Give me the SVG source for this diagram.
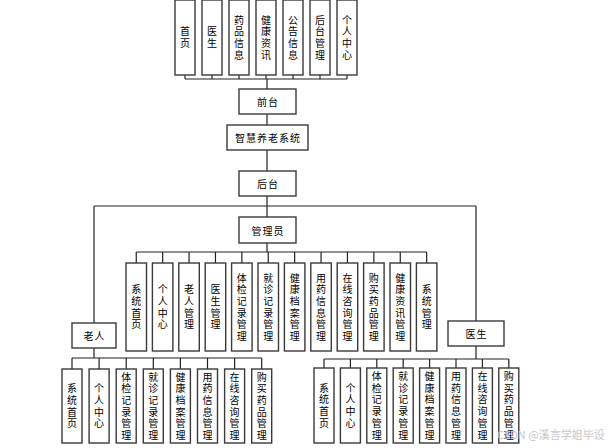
<svg xmlns="http://www.w3.org/2000/svg" width="616" height="448" viewBox="0 0 616 448">
<style>
.b{fill:#fff;stroke:#3a3a3a;stroke-width:1.4}
.c{fill:none;stroke:#222;stroke-width:1.2}
.t{font-family:"Noto Sans CJK SC","Liberation Sans",sans-serif;font-size:10px;fill:#000;text-anchor:middle;dominant-baseline:central}
.v{font-family:"Noto Sans CJK SC","Liberation Sans",sans-serif;font-size:10px;fill:#000;text-anchor:middle;writing-mode:vertical-rl;text-orientation:upright;letter-spacing:1.7px}
.h{letter-spacing:1px}
.w{font-family:"Noto Sans CJK SC","Liberation Sans",sans-serif;font-size:11px;fill:#c8c8c8}
</style>
<rect width="616" height="448" fill="#fff"/>
<g id="connectors">
<path class="c" d="M185 75V79M212 75V79M239 75V79M266 75V79M293 75V79M320 75V79M347 75V79M185 79H347M267 79V89"/>
<path class="c" d="M267 114V125M267 150V171M267 196V217M94 206H476M94 206V323M476 206V321"/>
<path class="c" d="M267 243V252M136.25 252H426.65M136.25 252V263M162.65 252V263M189.05 252V263M215.45 252V263M241.85 252V263M268.25 252V263M294.65 252V263M321.05 252V263M347.45 252V263M373.85 252V263M400.25 252V263M426.65 252V263"/>
<path class="c" d="M94 348V358M72 358H261.7M72 358V369M99.1 358V369M126.2 358V369M153.3 358V369M180.4 358V369M207.5 358V369M234.6 358V369M261.7 358V369"/>
<path class="c" d="M476 346V359M324 359H508.8M324 359V368M350.4 359V368M376.8 359V368M403.2 359V368M429.6 359V368M456 359V368M482.4 359V368M508.8 359V368"/>
</g>
<g id="top-shouye"><rect class="b" x="175" y="0" width="20" height="75"/><text class="v" x="185" y="38.35">首页</text></g>
<g id="top-yisheng"><rect class="b" x="202" y="0" width="20" height="75"/><text class="v" x="212" y="38.35">医生</text></g>
<g id="top-yaopin"><rect class="b" x="229" y="0" width="20" height="75"/><text class="v" x="239" y="38.35">药品信息</text></g>
<g id="top-jiankang"><rect class="b" x="256" y="0" width="20" height="75"/><text class="v" x="266" y="38.35">健康资讯</text></g>
<g id="top-gonggao"><rect class="b" x="283" y="0" width="20" height="75"/><text class="v" x="293" y="38.35">公告信息</text></g>
<g id="top-houtai"><rect class="b" x="310" y="0" width="20" height="75"/><text class="v" x="320" y="38.35">后台管理</text></g>
<g id="top-geren"><rect class="b" x="337" y="0" width="20" height="75"/><text class="v" x="347" y="38.35">个人中心</text></g>
<g id="qiantai"><rect class="b" x="239" y="89" width="57" height="25"/><text class="t h" x="268" y="101.5">前台</text></g>
<g id="system"><rect class="b" x="227" y="125" width="81" height="25"/><text class="t h" x="268" y="137.5">智慧养老系统</text></g>
<g id="houtai"><rect class="b" x="239" y="171" width="57" height="25"/><text class="t h" x="268" y="183.5">后台</text></g>
<g id="admin"><rect class="b" x="239" y="217" width="57" height="26"/><text class="t h" x="268" y="230">管理员</text></g>
<g id="a1"><rect class="b" x="126" y="263" width="20.5" height="88"/><text class="v" x="136.25" y="307.85">系统首页</text></g>
<g id="a2"><rect class="b" x="152.4" y="263" width="20.5" height="88"/><text class="v" x="162.65" y="307.85">个人中心</text></g>
<g id="a3"><rect class="b" x="178.8" y="263" width="20.5" height="88"/><text class="v" x="189.05" y="307.85">老人管理</text></g>
<g id="a4"><rect class="b" x="205.2" y="263" width="20.5" height="88"/><text class="v" x="215.45" y="307.85">医生管理</text></g>
<g id="a5"><rect class="b" x="231.6" y="263" width="20.5" height="88"/><text class="v" x="241.85" y="307.85">体检记录管理</text></g>
<g id="a6"><rect class="b" x="258" y="263" width="20.5" height="88"/><text class="v" x="268.25" y="307.85">就诊记录管理</text></g>
<g id="a7"><rect class="b" x="284.4" y="263" width="20.5" height="88"/><text class="v" x="294.65" y="307.85">健康档案管理</text></g>
<g id="a8"><rect class="b" x="310.8" y="263" width="20.5" height="88"/><text class="v" x="321.05" y="307.85">用药信息管理</text></g>
<g id="a9"><rect class="b" x="337.2" y="263" width="20.5" height="88"/><text class="v" x="347.45" y="307.85">在线咨询管理</text></g>
<g id="a10"><rect class="b" x="363.6" y="263" width="20.5" height="88"/><text class="v" x="373.85" y="307.85">购买药品管理</text></g>
<g id="a11"><rect class="b" x="390" y="263" width="20.5" height="88"/><text class="v" x="400.25" y="307.85">健康资讯管理</text></g>
<g id="a12"><rect class="b" x="416.4" y="263" width="20.5" height="88"/><text class="v" x="426.65" y="307.85">系统管理</text></g>
<g id="laoren"><rect class="b" x="72" y="323" width="44" height="25"/><text class="t h" x="94.5" y="335.5">老人</text></g>
<g id="yisheng"><rect class="b" x="448" y="321" width="56" height="25"/><text class="t h" x="476.5" y="333.5">医生</text></g>
<g id="l1"><rect class="b" x="62" y="369" width="20" height="74"/><text class="v" x="72" y="406.85">系统首页</text></g>
<g id="l2"><rect class="b" x="89.1" y="369" width="20" height="74"/><text class="v" x="99.1" y="406.85">个人中心</text></g>
<g id="l3"><rect class="b" x="116.2" y="369" width="20" height="74"/><text class="v" x="126.2" y="406.85">体检记录管理</text></g>
<g id="l4"><rect class="b" x="143.3" y="369" width="20" height="74"/><text class="v" x="153.3" y="406.85">就诊记录管理</text></g>
<g id="l5"><rect class="b" x="170.4" y="369" width="20" height="74"/><text class="v" x="180.4" y="406.85">健康档案管理</text></g>
<g id="l6"><rect class="b" x="197.5" y="369" width="20" height="74"/><text class="v" x="207.5" y="406.85">用药信息管理</text></g>
<g id="l7"><rect class="b" x="224.6" y="369" width="20" height="74"/><text class="v" x="234.6" y="406.85">在线咨询管理</text></g>
<g id="l8"><rect class="b" x="251.7" y="369" width="20" height="74"/><text class="v" x="261.7" y="406.85">购买药品管理</text></g>
<g id="r1"><rect class="b" x="314" y="368" width="20" height="75"/><text class="v" x="324" y="406.35">系统首页</text></g>
<g id="r2"><rect class="b" x="340.4" y="368" width="20" height="75"/><text class="v" x="350.4" y="406.35">个人中心</text></g>
<g id="r3"><rect class="b" x="366.8" y="368" width="20" height="75"/><text class="v" x="376.8" y="406.35">体检记录管理</text></g>
<g id="r4"><rect class="b" x="393.2" y="368" width="20" height="75"/><text class="v" x="403.2" y="406.35">就诊记录管理</text></g>
<g id="r5"><rect class="b" x="419.6" y="368" width="20" height="75"/><text class="v" x="429.6" y="406.35">健康档案管理</text></g>
<g id="r6"><rect class="b" x="446" y="368" width="20" height="75"/><text class="v" x="456" y="406.35">用药信息管理</text></g>
<g id="r7"><rect class="b" x="472.4" y="368" width="20" height="75"/><text class="v" x="482.4" y="406.35">在线咨询管理</text></g>
<g id="r8"><rect class="b" x="498.8" y="368" width="20" height="75"/><text class="v" x="508.8" y="406.35">购买药品管理</text></g>
<text class="w" x="497" y="439">CSDN @溪言学姐毕设</text>
</svg>
